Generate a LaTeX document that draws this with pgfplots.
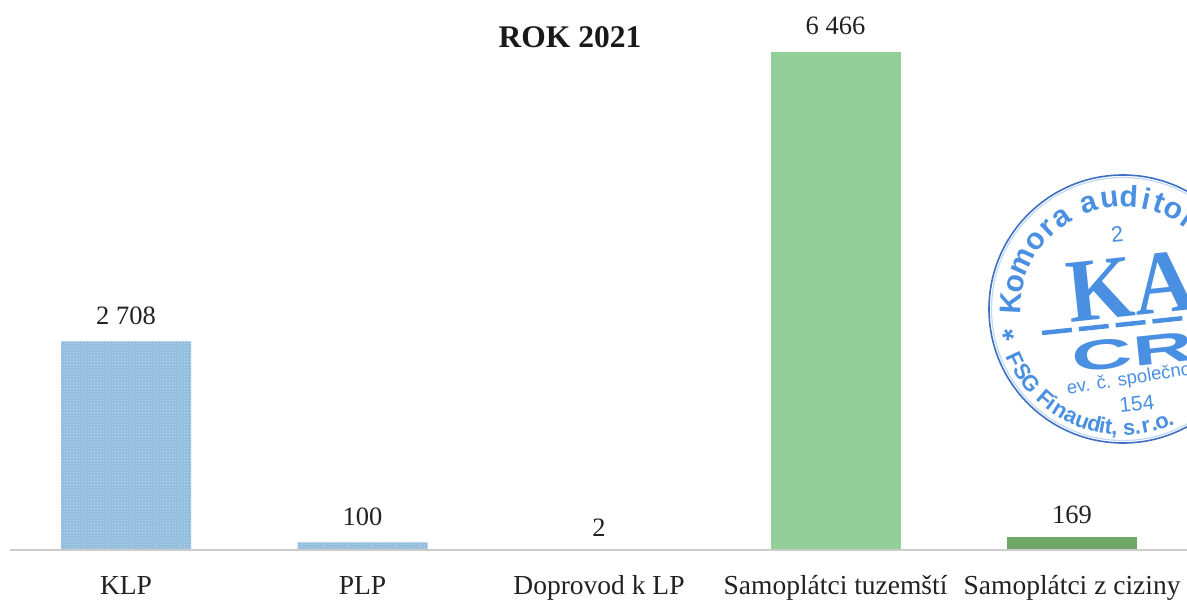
\documentclass[border=0pt]{standalone}
\usepackage{pgfplots}
\pgfplotsset{compat=1.18}
\usepackage{fontspec}
\setmainfont{Liberation Serif}
\newfontfamily\stampsans{Liberation Sans}
\usetikzlibrary{patterns}
\definecolor{klp}{HTML}{8FBBDD}
\definecolor{sam}{HTML}{93CF98}
\definecolor{cizi}{HTML}{6FA767}
\definecolor{stamp}{HTML}{4A90E2}
\definecolor{stampdark}{HTML}{3F6FC0}
\definecolor{txt}{HTML}{222222}
\newcommand{\fs}[1]{\fontsize{#1}{#1}\selectfont}
\begin{document}
\begin{tikzpicture}[x=1pt,y=1pt]
\path[use as bounding box,fill=white] (0,0) rectangle (1187,600);
\begin{scope}
\clip (0,0) rectangle (1187,600);
\begin{axis}[
  at={(10pt,50pt)}, anchor=south west,
  scale only axis, width=1177pt, height=550pt,
  xmin=-0.4905, xmax=4.486, ymin=0, ymax=7143,
  axis x line=bottom, axis y line=none,
  axis on top,
  axis line style={draw=black!20,line width=1.6pt,-},
  xtick={0,1,2,3,4},
  xticklabels={KLP,PLP,Doprovod k LP,Samoplátci tuzemští,Samoplátci z ciziny},
  xtick style={draw=none},
  x tick label style={font=\fs{27.5},text=txt,anchor=base,yshift=-40pt},
  ybar, bar width=130pt, bar shift=0pt,
  clip=false,
  nodes near coords,
  point meta=explicit symbolic,
  every node near coord/.append style={font=\fs{26.5},text=txt,yshift=13.5pt},
]
\addplot[draw=none,fill=klp,postaction={pattern=crosshatch dots,pattern color=white!55!klp}] coordinates {(0,2708)[2 708] (1,100)[100]};
\addplot[draw=none,fill=klp,every node near coord/.append style={yshift=-4pt}] coordinates {(2,2)[2]};
\addplot[draw=none,fill=sam] coordinates {(3,6466)[6 466]};
\addplot[draw=none,fill=cizi,every node near coord/.append style={yshift=-4pt}] coordinates {(4,169)[169]};
\end{axis}
\node[font=\fs{31.5}\bfseries,text=black!90,anchor=base] at (570,552) {ROK 2021};
% auditor's stamp
\begin{scope}[shift={(1123,291)}]
\draw[stampdark,line width=1.6pt] (0,0) circle (134);
\draw[stamp!35,line width=1.2pt] (0,0) circle (131.5);
\begin{scope}[font=\stampsans\fs{30}\bfseries]
\foreach \ch/\a in {K/177,o/167,m/155,o/142,r/133,a/124,a/108,u/97,d/87,i/78,t/71,o/63,r/54,ů/44}
  \node[text=stamp,anchor=base,rotate=\a-90,inner sep=0] at (\a:102) {\ch};
\end{scope}
\node[text=stamp,font=\stampsans\fs{30}\bfseries,rotate=103,inner sep=0] at (193:113) {*};
\begin{scope}[font=\stampsans\fs{22}\bfseries]
\foreach \ch/\a in {F/205,S/212,G/219,F/229,i/233,n/238,a/244,u/250,d/256,i/260,t/263,{,}/266,s/273,./277,r/281,./285,o/289,./293}
  \node[text=stamp,anchor=base,rotate=\a+90,inner sep=0] at (\a:126) {\ch};
\end{scope}
\begin{scope}[rotate=6,transform shape]
\node[text=stamp,font=\stampsans\fs{22}] at (2,75) {2};
\node[text=stamp,font=\fs{90}\bfseries,anchor=base west,xscale=0.95,inner sep=0] at (-54,-8) {KA};
\node[text=stamp,font=\stampsans\fs{42}\bfseries,anchor=base west,xscale=2,inner sep=0] at (-56,-58) {CR};
\draw[stamp,line width=4.5pt,dash pattern=on 30pt off 7pt] (-83,-15.4) -- (110,-15.4);
\node[text=stamp,font=\stampsans\fs{18.5},anchor=base west,inner sep=0,rotate=3] at (-64,-79) {ev. č. společnost};
\node[text=stamp,font=\stampsans\fs{21},anchor=base west,inner sep=0] at (-14,-103) {154};
\end{scope}
\end{scope}
\end{scope}
\end{tikzpicture}
\end{document}
